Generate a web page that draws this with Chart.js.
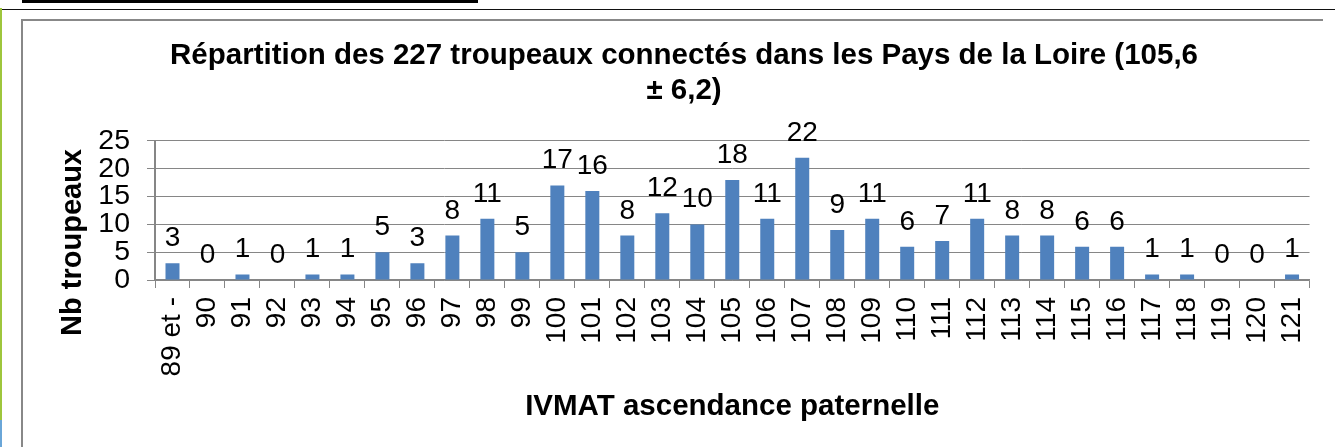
<!DOCTYPE html>
<html>
<head>
<meta charset="utf-8">
<script src="https://cdn.jsdelivr.net/npm/chart.js@4/dist/chart.umd.min.js"></script>
<style>
  html, body { margin: 0; padding: 0; background: #fff; }
  body { width: 1335px; height: 447px; position: relative; overflow: hidden; }
  .deco { position: absolute; }
  #c { position: absolute; left: 0; top: 0; }
</style>
</head>
<body>
<div class="deco" style="left:22px;top:0;width:456px;height:3px;background:#000;"></div>
<div class="deco" style="left:2px;top:9px;width:1333px;height:1px;background:#111;"></div>
<div class="deco" style="left:0;top:8px;width:2px;height:412px;background:#9ec63c;"></div>
<div class="deco" style="left:0;top:420px;width:2px;height:27px;background:#6aa6d8;"></div>
<div class="deco" style="left:21px;top:19px;width:1302px;height:440px;border-left:2px solid #888;border-top:2px solid #888;box-sizing:border-box;"></div>
<canvas id="c" width="1335" height="447"></canvas>
<script>
const categories = ["89 et -","90","91","92","93","94","95","96","97","98","99","100","101","102","103","104","105","106","107","108","109","110","111","112","113","114","115","116","117","118","119","120","121"];
const values = [3,0,1,0,1,1,5,3,8,11,5,17,16,8,12,10,18,11,22,9,11,6,7,11,8,8,6,6,1,1,0,0,1];
const titleLines = ["Répartition des 227 troupeaux connectés dans les Pays de la Loire (105,6", "± 6,2)"];
const yTitle = "Nb troupeaux";
const xTitle = "IVMAT ascendance paternelle";

const FONT = "'Liberation Sans', Arial, sans-serif";
const GRID = "#868686";

const dataLabels = {
  id: 'dataLabels',
  afterDatasetsDraw(chart) {
    const ctx = chart.ctx;
    const meta = chart.getDatasetMeta(0);
    ctx.save();
    ctx.font = "28px " + FONT;
    ctx.fillStyle = "#000";
    ctx.textAlign = "center";
    ctx.textBaseline = "alphabetic";
    meta.data.forEach((bar, i) => {
      ctx.fillText(String(values[i]), bar.x, bar.y - 17);
    });
    ctx.restore();
  }
};

const yAxisTitle = {
  id: 'yAxisTitle',
  afterDraw(chart) {
    const ctx = chart.ctx;
    const yScale = chart.scales.y;
    ctx.save();
    ctx.font = "bold 29px " + FONT;
    ctx.fillStyle = "#000";
    ctx.textAlign = "center";
    ctx.textBaseline = "middle";
    ctx.translate(yScale.left + 17, yScale.getPixelForValue(6.75));
    ctx.rotate(-Math.PI / 2);
    ctx.fillText(yTitle, 0, 0);
    ctx.restore();
  }
};

new Chart(document.getElementById('c'), {
  type: 'bar',
  data: {
    labels: categories,
    datasets: [{
      data: values,
      backgroundColor: '#4F81BD',
      borderWidth: 0,
      barPercentage: 0.4,
      categoryPercentage: 1.0
    }]
  },
  options: {
    responsive: false,
    animation: false,
    devicePixelRatio: 1,
    layout: { padding: { left: 56, right: 23, top: 0, bottom: 0 } },
    plugins: {
      legend: { display: false },
      tooltip: { enabled: false },
      title: {
        display: true,
        text: titleLines,
        color: '#000',
        font: { family: FONT, size: 29.5, weight: 'bold', lineHeight: 1.186 },
        padding: { top: 38.3, bottom: 32.7 }
      }
    },
    scales: {
      x: {
        offset: true,
        afterFit(scale) { scale.height = 167; },
        grid: { display: true, drawOnChartArea: false, drawTicks: true, tickLength: 8, color: GRID, lineWidth: 1, offset: true },
        border: { display: true, color: GRID, width: 1.5 },
        ticks: {
          autoSkip: false, maxRotation: 90, minRotation: 90, padding: 9,
          color: '#000', font: { family: FONT, size: 28 }
        },
        title: {
          display: true, text: xTitle, color: '#000',
          font: { family: FONT, size: 29.5, weight: 'bold' },
          padding: { top: 0, bottom: 22.8 }
        }
      },
      y: {
        min: 0, max: 25,
        afterFit(scale) { scale.width = 99; },
        grid: { display: true, drawTicks: true, tickLength: 8, color: GRID, lineWidth: 1 },
        border: { display: true, color: GRID, width: 2 },
        ticks: {
          stepSize: 5, autoSkip: false, padding: 17,
          color: '#000', font: { family: FONT, size: 28.5 }
        },
        title: { display: false }
      }
    }
  },
  plugins: [dataLabels, yAxisTitle]
});
</script>
</body>
</html>
